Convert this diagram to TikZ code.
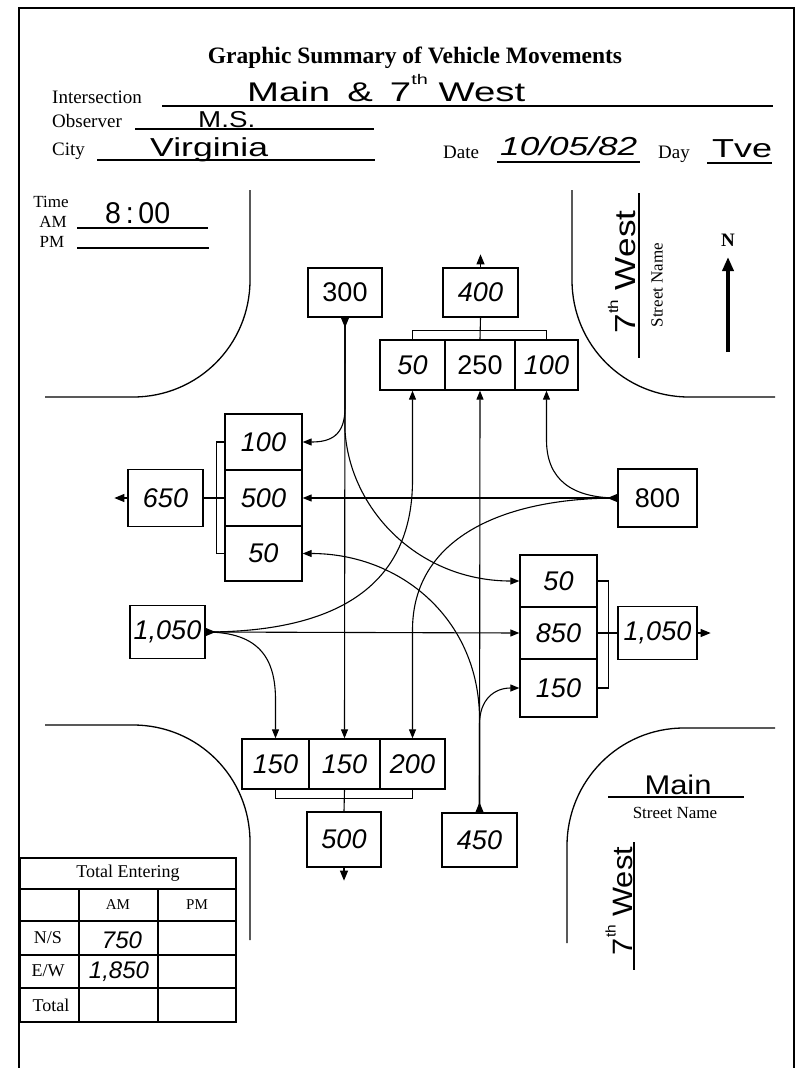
\documentclass[tikz,border=0pt]{standalone}
\usepackage{fontspec}
\usepackage{graphicx}
\setmainfont{Liberation Serif}
\newfontfamily\handfont{Liberation Sans}
\usetikzlibrary{arrows.meta}
\newcommand\hw[2]{\resizebox{#1pt}{\height}{#2}}
\newcommand\fs[1]{\fontsize{#1}{#1}\selectfont}
\newcommand\thsup{\raisebox{0.6em}{\fs{14}th}}
\begin{document}
\begin{tikzpicture}[x=1pt,y=-1pt,
  box/.style={draw, line width=1.3pt, inner sep=0pt, font=\handfont\itshape\fs{27}},
  conn/.style={line width=1.1pt},
  arr/.style={conn, -{Triangle[length=9pt,width=7pt]}},
  tipm/.style={line width=1.1pt, -{Triangle[length=10pt,width=8pt]}},
  road/.style={line width=1.3pt},
  uline/.style={line width=1.1pt},
  lbl/.style={inner sep=0pt, font=\fs{19}},
  hand/.style={inner sep=0pt, font=\handfont\fs{27}},
  tbl/.style={line width=1.2pt},
  tlbl/.style={inner sep=0pt, font=\fs{18}},
]
\useasboundingbox (0,0) rectangle (797,1068);
% page border
\draw[line width=1.3pt] (19,1068) -- (19,8) -- (794,8) -- (794,1068);

% title and header
\node[inner sep=0pt, font=\bfseries\fs{23.5}] (title) at (415,58) {Graphic Summary of Vehicle Movements};
\node[lbl, anchor=base west] (lint) at (52,103) {Intersection};
\node[lbl, anchor=base west] (lobs) at (52,127) {Observer};
\node[lbl, anchor=base west] (lcity) at (52,155) {City};
\node[lbl, anchor=base west] (ldate) at (443,158) {Date};
\node[lbl, anchor=base west] (lday) at (658,158) {Day};
\draw[uline] (162,106) -- (773,106);
\draw[uline] (135,129) -- (374,129);
\draw[uline] (97,160) -- (375,160);
\draw[uline] (497,162) -- (640,162);
\draw[uline] (707,163) -- (772,163);
\node[hand, anchor=base west] (vint) at (247,101) {\hw{278}{Main\hspace{12pt}\&\hspace{12pt}7\thsup\ West}};
\node[hand, anchor=base west, font=\handfont\fs{23}] (vobs) at (198,127) {\hw{57}{M.S.}};
\node[hand, anchor=base west, font=\handfont\fs{26}] (vcity) at (150,156) {\hw{118}{Virginia}};
\node[hand, anchor=base west, font=\handfont\itshape\fs{26}] (vdate) at (500,155) {\hw{137}{10/05/82}};
\node[hand, anchor=base west, font=\handfont\fs{26}] (vday) at (712,157) {\hw{60}{Tve}};

% time
\node[inner sep=0pt, font=\fs{17}] (ltime) at (51,202) {Time};
\node[inner sep=0pt, font=\fs{17}] (lam) at (53,222) {AM};
\node[inner sep=0pt, font=\fs{17}] (lpm) at (52,242) {PM};
\draw[uline] (77,228) -- (208,228);
\draw[uline] (77,248) -- (209,248);
\node[hand, anchor=base west, font=\handfont\fs{30}] (vtime) at (105,223) {\hw{65}{8\,:\,00}};

% road corners
\draw[road] (250,190) -- (250,280) .. controls (250,345) and (198,397) .. (133,397) -- (45,397);
\draw[road] (572,190) -- (572,280) .. controls (572,345) and (624,397) .. (689,397) -- (775,397);
\draw[road] (45,725) -- (133,725) .. controls (198,725) and (250,777) .. (250,842) -- (250,940);
\draw[road] (775,728) -- (684,728) .. controls (619,728) and (567,781) .. (567,846) -- (567,943);

% street names
\draw[uline] (639,193) -- (639,358);
\node[hand, rotate=90, font=\handfont\fs{29}] (sn1) at (622,272) {\hw{123}{7\thsup\ West}};
\node[inner sep=0pt, rotate=90, font=\fs{17}] (sl1) at (657,285) {Street Name};
\node[hand, font=\handfont\fs{27}] (sn2) at (678,785) {\hw{67}{Main}};
\draw[uline] (608,797) -- (744,797);
\node[inner sep=0pt, font=\fs{17}] (sl2) at (675,813) {Street Name};
\node[hand, rotate=90, font=\handfont\fs{28}] (sn3) at (619,901) {\hw{108}{7\thsup\ West}};
\draw[uline] (634,842) -- (634,970);

% north arrow
\node[inner sep=0pt, font=\bfseries\fs{19}] (north) at (728,240) {N};
\draw[line width=3.5pt, -{Triangle[length=14pt,width=11pt]}] (728,352) -- (728,257);

% boxes
\node[box, minimum width=74pt, minimum height=49pt] (b300) at (345,292.5) {\upshape 300};
\node[box, minimum width=75pt, minimum height=49pt] (b400) at (480.5,292.5) {400};
\node[box, minimum width=65pt, minimum height=50pt] (t50) at (412.5,365) {50};
\node[box, minimum width=70pt, minimum height=50pt] (t250) at (480,365) {\upshape 250};
\node[box, minimum width=63pt, minimum height=50pt] (t100) at (546.5,365) {100};

\node[box, minimum width=77pt, minimum height=56pt] (l100) at (263.5,442) {100};
\node[box, minimum width=77pt, minimum height=56pt] (l500) at (263.5,498) {500};
\node[box, minimum width=77pt, minimum height=55pt] (l50) at (263.5,553.5) {50};
\node[box, minimum width=75pt, minimum height=57pt] (b650) at (165.5,498) {650};

\node[box, minimum width=79pt, minimum height=58pt] (b800) at (657.5,498) {\upshape 800};
\node[box, minimum width=77pt, minimum height=52pt] (r50) at (558.5,581) {50};
\node[box, minimum width=77pt, minimum height=52pt] (r850) at (558.5,633) {850};
\node[box, minimum width=77pt, minimum height=58pt] (r150) at (558.5,688) {150};
\node[box, minimum width=79pt, minimum height=53pt] (bR1050) at (657.5,633) {1,050};
\node[box, minimum width=75pt, minimum height=53pt] (bL1050) at (167.5,632) {1,050};

\node[box, minimum width=67pt, minimum height=50pt] (bl1) at (275.5,764) {150};
\node[box, minimum width=71pt, minimum height=50pt] (bl2) at (344.5,764) {150};
\node[box, minimum width=65pt, minimum height=50pt] (bl3) at (412.5,764) {200};
\node[box, minimum width=74pt, minimum height=55pt] (b500) at (344,839.5) {500};
\node[box, minimum width=75pt, minimum height=54pt] (b450) at (479.5,840) {450};

% brackets
\draw[conn] (b400.south) -- (t250.north);
\draw[conn] (t50.north) -- ++(0,-9) -| (t100.north);
\draw[conn] (l100.west) -- ++(-8,0) |- (l50.west);
\draw[conn] (b650.east) -- (l500.west);
\draw[conn] (r50.east) -- ++(11,0) |- (r150.east);
\draw[conn] (r850.east) -- (bR1050.west);
\draw[conn] (bl1.south) -- ++(0,9) -| (bl3.south);
\draw[conn] (bl2.south) -- (b500.north);

% markers at entering and leaving boxes
\draw[tipm] (b300.south) -- ++(0,10);
\draw[tipm] (b800.west) -- ++(-10,0);
\draw[tipm] (bL1050.east) -- ++(10,0);
\draw[tipm] (b450.north) -- ++(0,-10);
\draw[tipm] (b400.north) -- ++(0,-13);
\draw[tipm] (b650.west) -- ++(-13,0);
\draw[tipm] (bR1050.east) -- ++(13,0);
\draw[tipm] (b500.south) -- ++(0,13);

% southbound
\draw[arr] (b300.south) -- (bl2.north);
\draw[arr] (b300.south) -- ++(0,90) .. controls +(0,28) and +(28,0) .. (l100.east);
\draw[arr] (b300.south) -- ++(0,113) .. controls +(5,80) and +(-100,0) .. (r50.west);
% westbound
\draw[arr] (b800.west) -- (l500.east);
\draw[arr] (b800.west) .. controls +(-45,0) and +(0,40) .. (t100.south |- 0,440) -- (t100.south);
\draw[arr] (b800.west) .. controls +(-118,0) and +(0,-90) .. (bl3.north |- 0,630) -- (bl3.north);
% eastbound
\draw[arr] (bL1050.east) -- (r850.west);
\draw[arr] (bL1050.east) .. controls +(125,0) and +(0,110) .. (t50.south |- 0,480) -- (t50.south);
\draw[arr] (bL1050.east) .. controls +(55,0) and +(0,-40) .. (bl1.north |- 0,700) -- (bl1.north);
% northbound
\draw[arr] (b450.north) -- (t250.south);
\draw[arr] (b450.north) -- ++(0,-88) .. controls +(0,-25) and +(-25,0) .. (r150.west);
\draw[arr] (b450.north) -- ++(0,-93) .. controls +(0,-100) and +(98,0) .. (l50.east);

% table
\draw[tbl] (20,858) rectangle (236,1022);
\draw[tbl] (20,889) -- (236,889);
\draw[tbl] (20,921) -- (236,921);
\draw[tbl] (20,955) -- (236,955);
\draw[tbl] (20,988) -- (236,988);
\draw[tbl] (79,889) -- (79,1022);
\draw[tbl] (158,889) -- (158,1022);
\node[tlbl] (tte) at (128,873) {Total Entering};
\node[tlbl, font=\fs{15}] (tam) at (118,905) {AM};
\node[tlbl, font=\fs{15}] (tpm) at (197,905) {PM};
\node[tlbl] (tns) at (48,938) {N/S};
\node[tlbl] (tew) at (48,971) {E/W};
\node[tlbl] (ttot) at (51,1005) {Total};
\node[hand, font=\handfont\itshape\fs{24}] (v750) at (122,940) {750};
\node[hand, font=\handfont\itshape\fs{24}] (v1850) at (119,972) {1,850};
\end{tikzpicture}
\end{document}
